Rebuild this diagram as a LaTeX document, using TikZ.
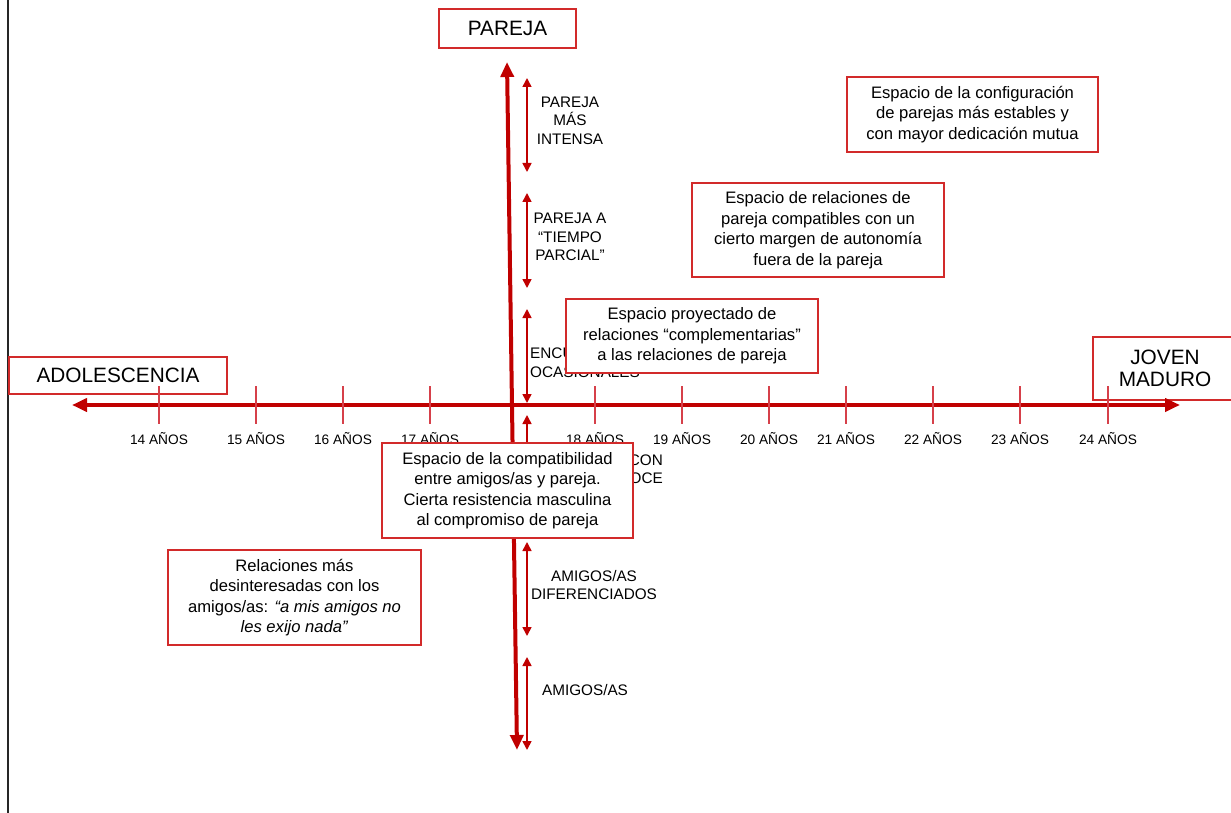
\documentclass[tikz,border=0pt]{standalone}
\usepackage{fontspec}
\setmainfont{Liberation Sans}
\usetikzlibrary{arrows.meta}
\definecolor{axisred}{HTML}{C00000}
\definecolor{boxred}{HTML}{D22A2A}
\definecolor{tickred}{HTML}{D6404A}
\begin{document}
\begin{tikzpicture}[x=1pt,y=-1pt,
  mainaxis/.style={line width=4pt, draw=axisred, {Triangle[length=15pt,width=13pt]}-{Triangle[length=15pt,width=13pt]}},
  rangearrow/.style={line width=1.6pt, draw=axisred, {Triangle[length=9pt,width=9pt]}-{Triangle[length=9pt,width=9pt]}},
  tickmark/.style={line width=1.3pt, draw=tickred},
  ticklabel/.style={font=\fontsize{13.7}{15}\selectfont, inner sep=0pt},
  rangelabel/.style={font=\fontsize{15.3}{18.5}\selectfont, inner sep=0pt},
  titlebox/.style={draw=boxred, line width=1.5pt, inner sep=0pt, align=center, font=\fontsize{20.8}{22.5}\selectfont},
  spacebox/.style={draw=boxred, line width=1.5pt, fill=white, inner sep=0pt, align=center, font=\fontsize{16.6}{20.5}\selectfont}
]
\useasboundingbox (0,0) rectangle (1231,813);
% left border line
\coordinate (lt) at (8,0);
\coordinate (lb) at (8,813);
\draw[line width=2pt, black!85] (lt) -- (lb);

% title boxes (unfilled)
\node[titlebox, minimum width=218pt, minimum height=37pt] (adol) at (118,375.5) {ADOLESCENCIA};
\node[titlebox, minimum width=144pt, minimum height=63pt] (joven) at (1165,368.5) {JOVEN\\MADURO};
\node[titlebox, fill=white, minimum width=137pt, minimum height=39pt] (pareja) at (507.5,28.5) {PAREJA};

% axes
\coordinate (hL) at (72,405);
\coordinate (hR) at (1180,405);
\coordinate (vT) at (507,62);
\coordinate (vB) at (517,750);
\draw[mainaxis] (hL) -- (hR);
\draw[mainaxis] (vB) -- (vT);

% ticks and labels
\foreach \x/\a in {159/14,256/15,343/16,430/17,595/18,682/19,769/20,846/21,933/22,1020/23,1108/24}{
  \coordinate (t\a a) at (\x,386);
  \coordinate (t\a b) at (\x,424);
  \draw[tickmark] (t\a a) -- (t\a b);
  \node[ticklabel] (l\a) at (\x,439) {\a{} AÑOS};
}

% range arrows on vertical axis
\foreach \i/\ya/\yb in {1/78/172,2/193/288,3/309/403,4/415/535,5/542/636,6/657/750}{
  \coordinate (r\i a) at (527,\ya);
  \coordinate (r\i b) at (527,\yb);
  \draw[rangearrow] (r\i a) -- (r\i b);
}
\node[rangelabel, align=center] (lab1) at (570,120.5) {PAREJA\\MÁS\\INTENSA};
\node[rangelabel, align=center] (lab2) at (570,237) {PAREJA A\\“TIEMPO\\PARCIAL”};
\node[rangelabel, align=left, anchor=west] (lab3) at (530,362.5) {ENCUENTROS\\OCASIONALES};
\node[rangelabel, align=right, anchor=east] (lab4) at (663,469) {CON\\OCE};
\node[rangelabel, align=center] (lab5) at (594,585) {AMIGOS/AS\\DIFERENCIADOS};
\node[rangelabel, align=center] (lab6) at (585,690) {AMIGOS/AS};

% space boxes
\node[spacebox, minimum width=251pt, minimum height=75pt] (conf) at (972.5,114.5)
  {Espacio de la configuración\\de parejas más estables y\\con mayor dedicación mutua};
\node[spacebox, minimum width=252pt, minimum height=94pt] (relpar) at (818,230)
  {Espacio de relaciones de\\pareja compatibles con un\\cierto margen de autonomía\\fuera de la pareja};
\node[spacebox, minimum width=252pt, minimum height=74pt] (proy) at (692,336)
  {Espacio proyectado de\\relaciones “complementarias”\\a las relaciones de pareja};
\node[spacebox, minimum width=251pt, minimum height=95pt] (compat) at (507.5,490.5)
  {Espacio de la compatibilidad\\entre amigos/as y pareja.\\Cierta resistencia masculina\\al compromiso de pareja};
\node[spacebox, minimum width=253pt, minimum height=95pt] (relmas) at (294.5,597.5)
  {Relaciones más\\desinteresadas con los\\amigos/as: \textit{“a mis amigos no}\\\textit{les exijo nada”}};
\end{tikzpicture}
\end{document}
